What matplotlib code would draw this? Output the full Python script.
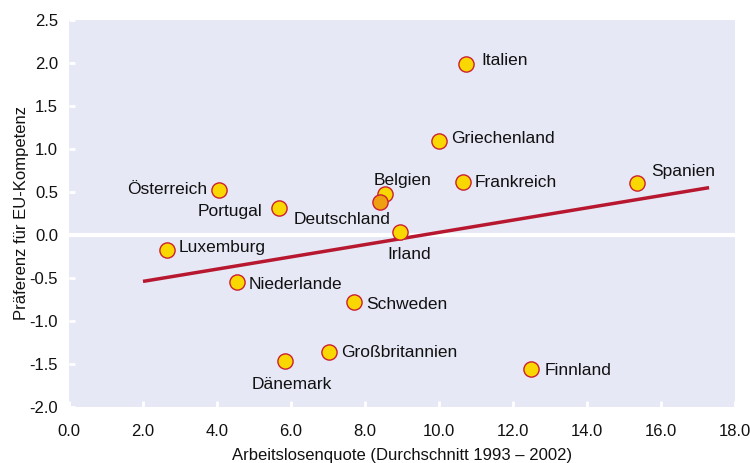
import matplotlib.pyplot as plt
import numpy as np

# data
countries = ["Italien", "Griechenland", "Spanien", "Frankreich", "Belgien",
             "Österreich", "Portugal", "Irland", "Luxemburg", "Niederlande",
             "Schweden", "Großbritannien", "Dänemark", "Finnland", "Deutschland"]
unemployment = [10.73, 10.0, 15.35, 10.65, 8.54,
                4.05, 5.68, 8.95, 2.65, 4.54,
                7.70, 7.03, 5.84, 12.49, 8.41]
preference = [1.99, 1.09, 0.60, 0.61, 0.48,
              0.52, 0.31, 0.03, -0.18, -0.55,
              -0.78, -1.36, -1.47, -1.56, 0.38]

# trend line end points
trend_x = [2.0, 17.3]
trend_y = [-0.54, 0.55]

xticks = [0, 2, 4, 6, 8, 10, 12, 14, 16, 18]
yticks = [-2.0, -1.5, -1.0, -0.5, 0.0, 0.5, 1.0, 1.5, 2.0, 2.5]

# label placement: (dx px, dy px, ha)
label_pos = {
    "Italien": (15, 3, "left"),
    "Griechenland": (12, 3, "left"),
    "Spanien": (14, 12, "left"),
    "Frankreich": (12, 0, "left"),
    "Belgien": (18, 13, "center"),
    "Deutschland": (10, -17, "right"),
    "Österreich": (-12, 1, "right"),
    "Portugal": (-17, -3, "right"),
    "Irland": (9, -22, "center"),
    "Luxemburg": (12, 3, "left"),
    "Niederlande": (12, -2, "left"),
    "Schweden": (12, -2, "left"),
    "Großbritannien": (12, -1, "left"),
    "Dänemark": (7, -23, "center"),
    "Finnland": (13, -1, "left"),
}

plt.rcParams['font.family'] = ['Liberation Sans', 'DejaVu Sans']

fig = plt.figure(figsize=(7.5, 4.63), dpi=100)
ax = fig.add_axes([0.092, 0.121, 0.888, 0.836])
ax.set_facecolor("#e6e8f6")
for s in ax.spines.values():
    s.set_visible(False)

ax.set_xlim(0, 18)
ax.set_ylim(-2.0, 2.5)

# white zero line
ax.axhline(0, color="white", lw=3, zorder=1)

ax.plot(trend_x, trend_y, color="#b8182f", lw=2.5, zorder=2, solid_capstyle="butt")

for name, x, y in zip(countries, unemployment, preference):
    fc = "#eea010" if name == "Deutschland" else "#f8d800"
    ax.scatter(x, y, s=120, facecolor=fc, edgecolor="#cc2030", linewidth=1.0, zorder=3)
    dx, dy, ha = label_pos[name]
    ax.annotate(name, (x, y), xytext=(dx, dy), textcoords="offset pixels",
                ha=ha, va="center", fontsize=12.5, color="#111111", zorder=4)

ax.set_xticks(xticks)
ax.set_xticklabels(["%.1f" % v for v in xticks])
ax.set_yticks(yticks)
ax.set_yticklabels(["%.1f" % v for v in yticks])
ax.tick_params(direction="in", colors="white", length=4, width=2, labelsize=12)
ax.tick_params(axis="x", pad=12)
ax.tick_params(axis="y", pad=8)
for lbl in ax.get_xticklabels() + ax.get_yticklabels():
    lbl.set_color("#111111")

ax.set_xlabel("Arbeitslosenquote (Durchschnitt 1993 – 2002)", fontsize=12, color="#111111", labelpad=7)
ax.set_ylabel("Präferenz für EU-Kompetenz", fontsize=12, color="#111111", labelpad=0)

fig.savefig("out.png", dpi=100)
